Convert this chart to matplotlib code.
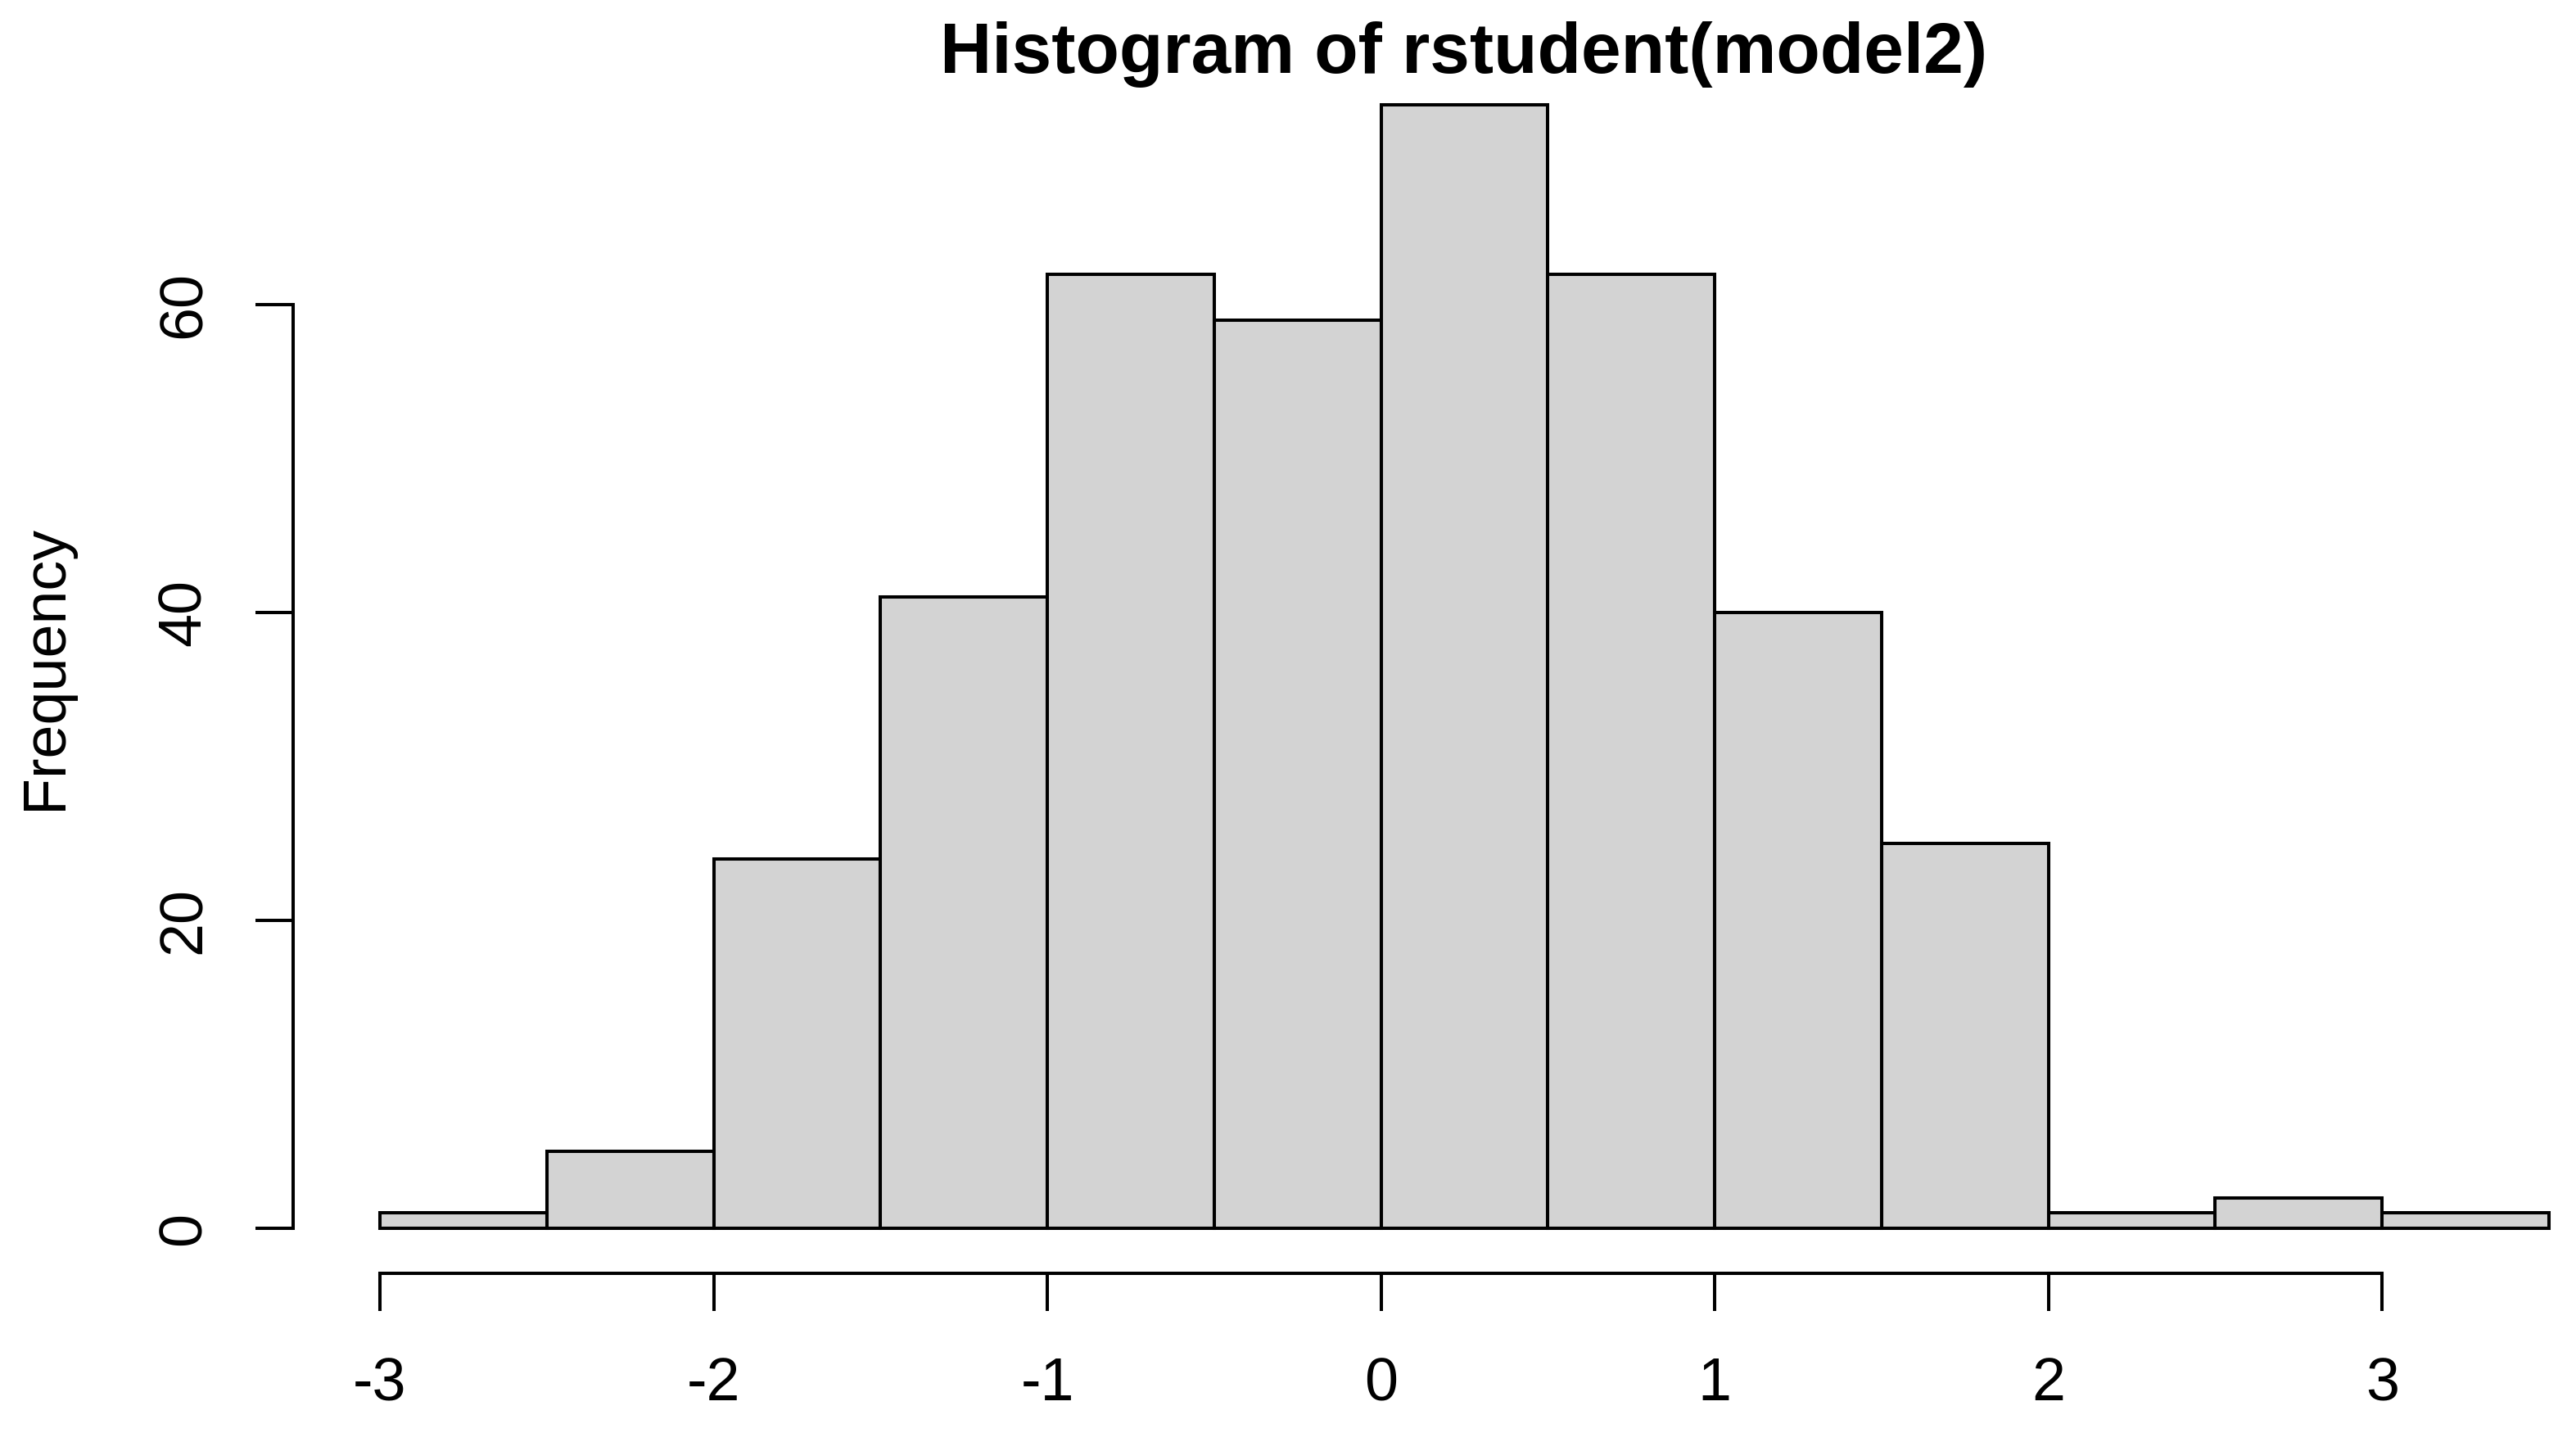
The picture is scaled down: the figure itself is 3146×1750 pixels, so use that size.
import matplotlib
matplotlib.use("Agg")
import matplotlib.pyplot as plt
import numpy as np

# histogram of studentized residuals (bins of width 0.5)
bin_left = [-3.0, -2.5, -2.0, -1.5, -1.0, -0.5, 0.0, 0.5, 1.0, 1.5, 2.0, 2.5, 3.0]
counts = [1, 5, 24, 41, 62, 59, 73, 62, 40, 25, 1, 2, 1]
bin_width = 0.5
x_ticks = [-3, -2, -1, 0, 1, 2, 3]
y_ticks = [0, 20, 40, 60]

plt.rcParams['font.family'] = ['Liberation Sans', 'DejaVu Sans']
plt.rcParams['axes.unicode_minus'] = False

W, H = 3146, 1750
fig = plt.figure(figsize=(W/100, H/100), dpi=100)
ax = fig.add_axes([358/W, 1-1555/H, (3219-358)/W, (1555-73)/H])

ax.bar(bin_left, counts, width=bin_width, align='edge',
       color='#d3d3d3', edgecolor='black', linewidth=2.9)

# R-style padding: 4% on each side
x0, x1 = bin_left[0], bin_left[-1]+bin_width
ax.set_xlim(x0-0.04*(x1-x0), x1+0.04*(x1-x0))
ymax = max(counts)
ax.set_ylim(-0.04*ymax, 1.04*ymax)

for s in ['top', 'right']:
    ax.spines[s].set_visible(False)
ax.spines['left'].set_bounds(y_ticks[0], y_ticks[-1])
ax.spines['bottom'].set_bounds(x_ticks[0], x_ticks[-1])
for s in ['left', 'bottom']:
    ax.spines[s].set_linewidth(2.9)

ax.set_xticks(x_ticks)
ax.set_yticks(y_ticks)
ax.tick_params(length=33, width=2.9, labelsize=53)
ax.tick_params(axis='x', pad=40)
ax.tick_params(axis='y', pad=38)
plt.setp(ax.get_yticklabels(), rotation=90, va='center')

fig.text(1788/W, 1-89/H, "Histogram of rstudent(model2)", ha='center',
         va='baseline', fontsize=63, fontweight='bold')
fig.text(56/W, 1-815/H, "Frequency", rotation=90, ha='center', va='center',
         fontsize=53)

fig.savefig("out.png", dpi=100)
